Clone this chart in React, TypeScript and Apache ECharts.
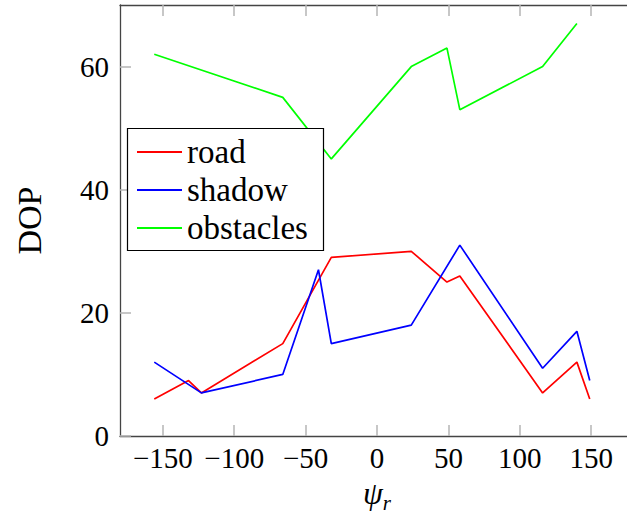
import React, { useEffect, useRef } from "react";
import * as echarts from "echarts";

const roadX = [-156, -132, -123, -66, -32, 24, 49, 58, 116, 140, 149];
const roadY = [6, 9, 7, 15, 29, 30, 25, 26, 7, 12, 6];
const shadowX = [-156, -123, -66, -41, -32, 24, 58, 116, 140, 149];
const shadowY = [12, 7, 10, 27, 15, 18, 31, 11, 17, 9];
const obstaclesX = [-156, -66, -32, 24, 49, 58, 116, 140];
const obstaclesY = [62, 55, 45, 60, 63, 53, 60, 67];

const xTicks = [-150, -100, -50, 0, 50, 100, 150];
const yTicks = [0, 20, 40, 60];

const FONT = "Liberation Serif";
const AXIS_COLOR = "#444444";
const TICK_COLOR = "#b5b5b5";

const zip = (xs: number[], ys: number[]) => xs.map((x, i) => [x, ys[i]]);

export default function App() {
  const ref = useRef<HTMLDivElement>(null);
  useEffect(() => {
    if (!ref.current) return;
    const chart = echarts.init(ref.current, null, { renderer: "svg" });
    const lineSeries = (name: string, data: number[][], color: string) => ({
      name,
      type: "line",
      data,
      symbol: "none",
      lineStyle: { color, width: 1.7 },
      itemStyle: { color },
      z: 2,
    });
    chart.setOption({
      animation: false,
      backgroundColor: "#ffffff",
      textStyle: { fontFamily: FONT },
      grid: { left: 120, top: 5, right: -7, bottom: 81, containLabel: false, outerBoundsMode: "none" },
      xAxis: [
        {
          type: "value",
          position: "bottom",
          min: -180,
          max: 180,
          name: "{a|ψ}{b|r}",
          nameLocation: "middle",
          nameGap: 25,
          nameTextStyle: {
            rich: {
              a: { fontSize: 32, fontStyle: "italic", fontFamily: FONT, color: "#000", verticalAlign: "bottom", padding: [0, 0, 5, 0] },
              b: { fontSize: 21, fontStyle: "italic", fontFamily: FONT, color: "#000", verticalAlign: "bottom" },
            },
          },
          axisLine: { show: true, onZero: false, lineStyle: { color: AXIS_COLOR, width: 1.3 } },
          axisTick: { show: true, inside: true, length: 11, customValues: xTicks, lineStyle: { color: TICK_COLOR, width: 1.5 } },
          axisLabel: {
            customValues: xTicks,
            margin: 7,
            fontSize: 29,
            fontFamily: FONT,
            color: "#000",
            formatter: (v: number) => String(v).replace("-", "\u2212"),
          },
          splitLine: { show: false },
        },
        {
          type: "value",
          position: "top",
          min: -180,
          max: 180,
          axisLine: { show: true, onZero: false, lineStyle: { color: AXIS_COLOR, width: 1.3 } },
          axisTick: { show: true, inside: true, length: 11, customValues: xTicks, lineStyle: { color: TICK_COLOR, width: 1.5 } },
          axisLabel: { show: false },
          splitLine: { show: false },
        },
      ],
      yAxis: [
        {
          type: "value",
          min: 0,
          max: 70,
          name: "DOP",
          nameLocation: "middle",
          nameRotate: 90,
          nameGap: 74,
          nameTextStyle: { fontSize: 34, fontFamily: FONT, color: "#000" },
          axisLine: { show: true, onZero: false, lineStyle: { color: AXIS_COLOR, width: 1.3 } },
          axisTick: { show: true, inside: true, length: 11, customValues: yTicks, lineStyle: { color: TICK_COLOR, width: 1.5 } },
          axisLabel: { customValues: yTicks, margin: 11, fontSize: 29, fontFamily: FONT, color: "#000" },
          splitLine: { show: false },
        },
      ],
      graphic: [
        {
          type: "rect",
          z: 10,
          shape: { x: 127.5, y: 128.5, width: 196, height: 122 },
          style: { fill: "#ffffff", stroke: "#000000", lineWidth: 1.2 },
        },
      ],
      legend: {
        z: 20,
        left: 127,
        top: 129,
        orient: "vertical",
        padding: [4, 10, 4, 10],
        icon: "rect",
        itemWidth: 45,
        itemHeight: 2,
        itemGap: 0,
        textStyle: { fontSize: 33, lineHeight: 38, fontFamily: FONT, color: "#000" },
        data: ["road", "shadow", "obstacles"],
      },
      series: [
        lineSeries("road", zip(roadX, roadY), "#ff0000"),
        lineSeries("shadow", zip(shadowX, shadowY), "#0000ff"),
        lineSeries("obstacles", zip(obstaclesX, obstaclesY), "#00ff00"),
      ],
    });
    return () => chart.dispose();
  }, []);
  return (
    <div
      ref={ref}
      style={{ position: "fixed", left: 0, top: 0, width: 627, height: 517 }}
    />
  );
}
